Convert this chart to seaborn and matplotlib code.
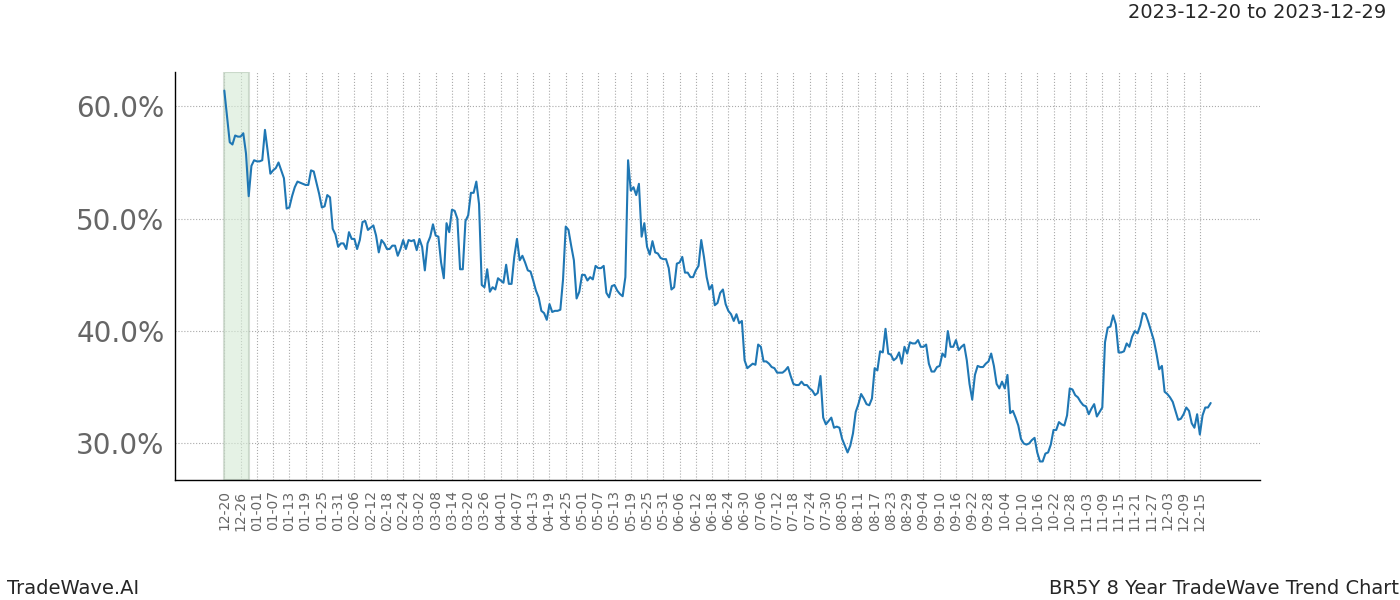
import numpy as np
import pandas as pd
import matplotlib
matplotlib.use("Agg")
import matplotlib.pyplot as plt
import matplotlib.dates as mdates
from matplotlib.ticker import FuncFormatter
import seaborn as sns

start_date = "2022-12-20"
values = [
    61.4, 59.1, 56.8, 56.6, 57.4, 57.3, 57.3, 57.6, 55.8, 52.0,
    54.7, 55.2, 55.1, 55.1, 55.2, 57.9, 56.0, 54.0, 54.3, 54.5,
    55.0, 54.3, 53.6, 50.9, 51.0, 52.0, 52.8, 53.3, 53.2, 53.1,
    53.0, 53.0, 54.3, 54.2, 53.2, 52.2, 51.0, 51.1, 52.1, 51.9,
    49.1, 48.6, 47.5, 47.8, 47.8, 47.3, 48.8, 48.2, 48.2, 47.3,
    48.1, 49.7, 49.8, 49.0, 49.2, 49.4, 48.5, 47.0, 48.1, 47.8,
    47.3, 47.3, 47.6, 47.6, 46.7, 47.3, 48.1, 47.3, 48.1, 48.0,
    48.1, 47.2, 48.2, 47.5, 45.4, 47.8, 48.4, 49.5, 48.5, 48.4,
    46.1, 44.7, 49.6, 48.8, 50.8, 50.7, 50.0, 45.5, 45.5, 49.8,
    50.3, 52.3, 52.3, 53.3, 51.3, 44.1, 43.9, 45.5, 43.5, 43.9,
    43.7, 44.7, 44.5, 44.3, 45.9, 44.2, 44.2, 46.6, 48.2, 46.3,
    46.7, 46.1, 45.4, 45.3, 44.5, 43.6, 43.0, 41.8, 41.6, 41.0,
    42.4, 41.7, 41.8, 41.8, 41.9, 44.6, 49.3, 49.0, 47.6, 46.3,
    42.9, 43.5, 45.0, 45.0, 44.5, 44.8, 44.6, 45.8, 45.6, 45.6,
    45.8, 43.4, 43.0, 44.0, 44.1, 43.6, 43.3, 43.1, 44.8, 55.2,
    52.5, 52.8, 52.1, 53.1, 48.4, 49.6, 47.5, 46.8, 48.0, 47.0,
    46.9, 46.5, 46.4, 46.4, 45.6, 43.7, 43.9, 46.0, 46.1, 46.6,
    45.2, 45.2, 44.8, 44.8, 45.4, 45.8, 48.1, 46.6, 44.8, 43.7,
    44.1, 42.3, 42.5, 43.4, 43.7, 42.4, 41.8, 41.5, 40.9, 41.5,
    40.7, 40.9, 37.4, 36.7, 36.9, 37.1, 37.0, 38.8, 38.6, 37.3,
    37.3, 37.1, 36.8, 36.7, 36.3, 36.3, 36.3, 36.5, 36.8, 36.0,
    35.3, 35.2, 35.2, 35.5, 35.2, 35.2, 34.9, 34.7, 34.3, 34.5,
    36.0, 32.3, 31.7, 32.0, 32.3, 31.4, 31.5, 31.4, 30.4, 29.8,
    29.2, 29.8, 30.9, 32.8, 33.5, 34.4, 34.0, 33.5, 33.4, 34.0,
    36.7, 36.5, 38.2, 38.1, 40.2, 38.0, 37.9, 37.4, 37.6, 38.1,
    37.1, 38.6, 38.0, 39.0, 38.9, 38.9, 39.2, 38.6, 38.6, 38.8,
    37.1, 36.4, 36.4, 36.8, 36.9, 38.0, 37.7, 40.0, 38.6, 38.6,
    39.2, 38.3, 38.6, 38.8, 37.4, 35.3, 33.9, 36.1, 36.9, 36.8,
    36.8, 37.1, 37.3, 38.0, 36.9, 35.3, 34.9, 35.5, 34.9, 36.1,
    32.7, 32.9, 32.3, 31.6, 30.4, 30.0, 29.9, 30.0, 30.3, 30.5,
    29.2, 28.4, 28.4, 29.1, 29.2, 29.9, 31.2, 31.2, 31.9, 31.7,
    31.6, 32.5, 34.9, 34.8, 34.3, 34.1, 33.7, 33.4, 33.3, 32.6,
    33.1, 33.5, 32.4, 32.8, 33.2, 39.0, 40.3, 40.4, 41.4, 40.6,
    38.1, 38.1, 38.2, 38.9, 38.6, 39.5, 40.0, 39.8, 40.5, 41.6,
    41.5, 40.8, 40.0, 39.2, 38.0, 36.6, 36.9, 34.6, 34.4, 34.1,
    33.7, 32.9, 32.1, 32.2, 32.6, 33.2, 32.9, 31.8, 31.4, 32.6,
    30.8, 32.5, 33.2, 33.2, 33.6,
]
highlight_start = "2022-12-20"
highlight_end = "2022-12-29"
title_right = "2023-12-20 to 2023-12-29"
footer_left = "TradeWave.AI"
footer_right = "BR5Y 8 Year TradeWave Trend Chart"

dates = pd.date_range(start_date, periods=len(values), freq="D")
df = pd.DataFrame({"date": dates, "value": values})

sns.set_style("white")
plt.rcParams["font.family"] = ["DejaVu Sans"]

fig = plt.figure(figsize=(14, 6), dpi=100)
ax = fig.add_axes([0.125, 0.2, 0.775, 0.68])

ax.axvspan(pd.Timestamp(highlight_start), pd.Timestamp(highlight_end),
           facecolor="#d5ead5", alpha=0.6, edgecolor="#b9c9b9", linewidth=1.5)

sns.lineplot(data=df, x="date", y="value", ax=ax, color="#1f77b4", linewidth=1.5)

tick_dates = pd.date_range(start_date, dates[-1], freq="6D")
ax.set_xticks(tick_dates)
ax.xaxis.set_major_formatter(mdates.DateFormatter("%m-%d"))
ax.set_yticks([30, 40, 50, 60])
ax.yaxis.set_major_formatter(FuncFormatter(lambda v, p: f"{v:.1f}%"))

ax.grid(True, color="#aaaaaa", linestyle=":", linewidth=0.8)
ax.set_axisbelow(True)
ax.tick_params(axis="x", labelrotation=90, labelsize=10, labelcolor="#666666",
               length=4, color="black", width=1)
ax.tick_params(axis="y", labelsize=20, labelcolor="#666666", length=4, color="black", width=1)
ax.set_xlabel("")
ax.set_ylabel("")
sns.despine(ax=ax)
for s in ["left", "bottom"]:
    ax.spines[s].set_color("black")
    ax.spines[s].set_linewidth(1)

fig.text(0.99, 0.98, title_right, ha="right", va="center", fontsize=14)
fig.text(0.005, 0.02, footer_left, ha="left", va="center", fontsize=14)
fig.text(0.999, 0.02, footer_right, ha="right", va="center", fontsize=14)

fig.savefig("out.png", dpi=100)
